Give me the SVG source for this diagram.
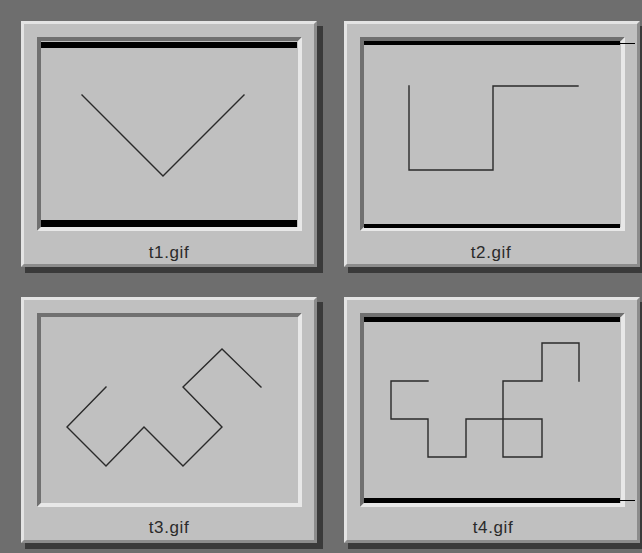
<svg xmlns="http://www.w3.org/2000/svg" xmlns:xlink="http://www.w3.org/1999/xlink" width="642" height="553" viewBox="0 0 642 553">
<style>
.bg{fill:#6e6e6e}
.shadow{fill:#3a3a3a}
.face{fill:#c0c0c0}
.hi{fill:#e4e4e4}
.lo{fill:#8c8c8c}
.ilo{fill:#707070}
.ihi{fill:#e8e8e8}
.bar{fill:#000}
.thin{stroke:#000;stroke-width:1;fill:none}
.draw{fill:none;stroke:#2a2a2a;stroke-width:1.4;stroke-linejoin:miter;stroke-linecap:square}
.label{font-family:"Liberation Sans",Arial,sans-serif;font-size:17px;letter-spacing:0.6px;fill:#2a2a2a;text-anchor:middle}
</style>
<defs>
<g id="frame">
<rect class="shadow" x="4" y="5" width="298" height="247"/>
<rect class="face" x="0" y="0" width="296" height="246"/>
<polygon class="hi" points="0,0 296,0 293,3 3,3 3,243 0,246"/>
<polygon class="lo" points="296,0 296,246 0,246 3,243 293,243 293,3"/>
<polygon class="ilo" points="16,16 281,16 277,20 20,20 20,206 16,210"/>
<polygon class="ihi" points="281,16 281,210 16,210 20,206 277,206 277,20"/>
</g>
</defs>
<rect class="bg" x="0" y="0" width="642" height="553"/>
<g id="t1">
<use xlink:href="#frame" x="21" y="21"/>
<rect class="bar" x="41" y="42" width="256" height="6"/>
<rect class="bar" x="41" y="220" width="256" height="7"/>
<polyline class="draw" points="82,95 163,176 244,95"/>
<text class="label" x="169" y="258">t1.gif</text>
</g>
<g id="t2">
<use xlink:href="#frame" x="344" y="21"/>
<rect class="bar" x="364" y="41" width="256" height="4"/>
<line class="thin" x1="620" y1="43.5" x2="635" y2="43.5"/>
<rect class="bar" x="364" y="224" width="256" height="4"/>
<polyline class="draw" points="409,86 409,170 493,170 493,86 578,86"/>
<text class="label" x="491" y="258">t2.gif</text>
</g>
<g id="t3">
<use xlink:href="#frame" x="21" y="297"/>
<polyline class="draw" points="106,387 67,427 106,466 144,427 183,466 222,427 183,387 222,349 261,387"/>
<text class="label" x="169" y="533">t3.gif</text>
</g>
<g id="t4">
<use xlink:href="#frame" x="344" y="297"/>
<rect class="bar" x="364" y="317" width="256" height="5"/>
<rect class="bar" x="364" y="498" width="256" height="5"/>
<line class="thin" x1="620" y1="500.5" x2="635" y2="500.5"/>
<polyline class="draw" points="428,381 391,381 391,419 428,419 428,457 466,457 466,419 542,419 542,457 503,457 503,381 542,381 542,343 579,343 579,381"/>
<text class="label" x="493" y="533">t4.gif</text>
</g>
</svg>
